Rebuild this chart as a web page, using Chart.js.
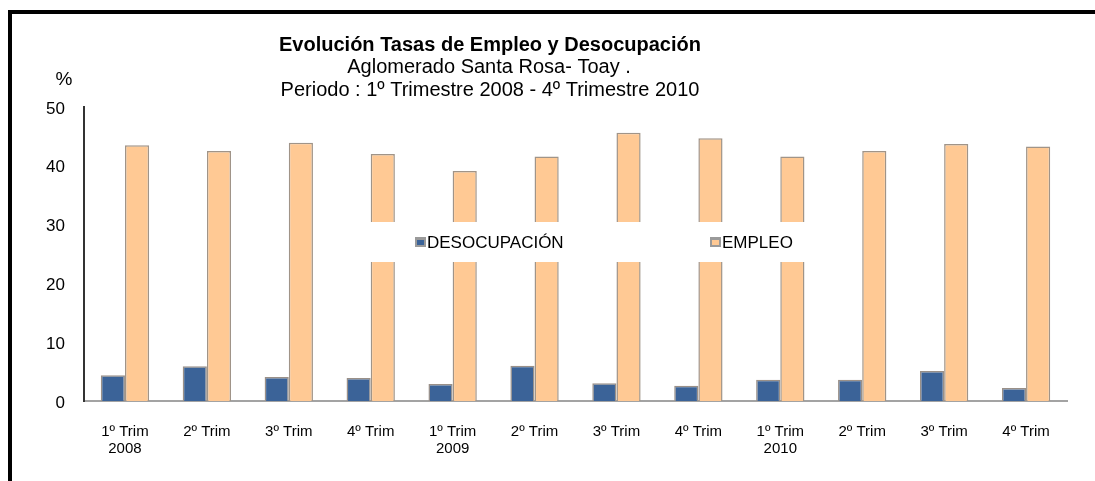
<!DOCTYPE html>
<html>
<head>
<meta charset="utf-8">
<script src="https://cdn.jsdelivr.net/npm/chart.js@4.4.1/dist/chart.umd.min.js"></script>
<style>
  html, body { margin: 0; padding: 0; background: #fff; }
  #wrap { position: absolute; left: 0; top: 0; width: 1095px; height: 481px; }
  #frame { position: absolute; left: 8px; top: 10px; width: 1087px; height: 471px;
           border-top: 4px solid #000; border-left: 4px solid #000; box-sizing: border-box; pointer-events: none; }
</style>
</head>
<body>
<div id="wrap">
  <canvas id="c" width="1095" height="481"></canvas>
  <div id="frame"></div>
</div>
<script>
const categories = [
  ['1º Trim', '2008'], '2º Trim', '3º Trim', '4º Trim',
  ['1º Trim', '2009'], '2º Trim', '3º Trim', '4º Trim',
  ['1º Trim', '2010'], '2º Trim', '3º Trim', '4º Trim'
];
const desocupacion = [4.4, 5.9, 4.1, 3.9, 2.9, 6.0, 3.0, 2.6, 3.6, 3.6, 5.1, 2.2];
const empleo = [43.5, 42.5, 43.9, 42.0, 39.1, 41.6, 45.6, 44.7, 41.6, 42.5, 43.7, 43.3];
const seriesNames = ['DESOCUPACIÓN', 'EMPLEO'];
const titleLines = [
  'Evolución Tasas de Empleo y Desocupación',
  'Aglomerado Santa Rosa- Toay .',
  'Periodo : 1º Trimestre 2008 - 4º Trimestre 2010'
];
const yUnit = '%';

const FONT = "'Liberation Sans', Arial, sans-serif";

const textPlugin = {
  id: 'texts',
  afterDatasetsDraw(chart) {
    const ctx = chart.ctx;
    ctx.save();
    ctx.fillStyle = '#ffffff';
    ctx.fillRect(318, 222, 538, 40);
    const entries = [{x: 415}, {x: 710}];
    chart.data.datasets.forEach((ds, i) => {
      const x = entries[i].x, y = 242;
      ctx.fillStyle = '#9a9a9a';
      ctx.fillRect(x, y - 5, 11, 10);
      ctx.fillStyle = ds.backgroundColor;
      ctx.fillRect(x + 2, y - 2, 7, 5);
      ctx.fillStyle = '#000';
      ctx.font = '17px ' + FONT;
      ctx.textAlign = 'left';
      ctx.textBaseline = 'middle';
      ctx.fillText(ds.label, x + 12, y + 1);
    });
    ctx.restore();
  },
  afterDraw(chart) {
    const ctx = chart.ctx;
    ctx.save();
    ctx.fillStyle = '#000';
    ctx.textAlign = 'center';
    ctx.textBaseline = 'middle';
    ctx.font = 'bold 20px ' + FONT;
    ctx.fillText(titleLines[0], 490, 45);
    ctx.font = '20px ' + FONT;
    ctx.fillText(titleLines[1], 489, 67);
    ctx.fillText(titleLines[2], 490, 90);
    ctx.font = '19px ' + FONT;
    ctx.fillText(yUnit, 64, 80);
    ctx.restore();
  }
};

new Chart(document.getElementById('c'), {
  type: 'bar',
  data: {
    labels: categories,
    datasets: [
      {
        label: seriesNames[0],
        data: desocupacion,
        backgroundColor: '#3b6398',
        borderColor: '#9a9088',
        borderWidth: 1.5,
        categoryPercentage: 0.59,
        barPercentage: 1.0
      },
      {
        label: seriesNames[1],
        data: empleo,
        backgroundColor: '#ffc994',
        borderColor: '#a09488',
        borderWidth: 1.5,
        categoryPercentage: 0.59,
        barPercentage: 1.0
      }
    ]
  },
  options: {
    responsive: false,
    animation: false,
    devicePixelRatio: 1,
    layout: { padding: { left: 0, right: 28, top: 107, bottom: 0 } },
    plugins: {
      legend: { display: false },
      title: { display: false },
      tooltip: { enabled: false }
    },
    scales: {
      x: {
        grid: { display: false, drawTicks: false },
        border: { display: true, color: '#a3a3a3', width: 2 },
        ticks: {
          color: '#000',
          font: { family: FONT, size: 15, lineHeight: 1.1 },
          padding: 23,
          maxRotation: 0,
          autoSkip: false
        },
        afterFit(s) { s.height = 80; }
      },
      y: {
        min: 0,
        max: 50,
        grid: { display: false, drawTicks: false },
        border: { display: true, color: '#333333', width: 2 },
        ticks: {
          stepSize: 10,
          color: '#000',
          font: { family: FONT, size: 17 },
          padding: 19,
          labelOffset: 2
        },
        afterFit(s) { s.width = 84; }
      }
    }
  },
  plugins: [textPlugin]
});
</script>
</body>
</html>
